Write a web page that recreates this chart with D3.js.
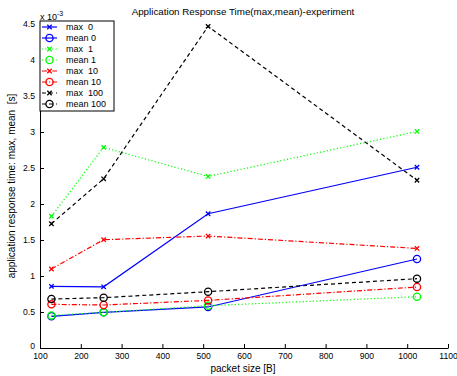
<!DOCTYPE html>
<html>
<head>
<meta charset="utf-8">
<script src="https://cdn.jsdelivr.net/npm/d3@7"></script>
<style>
  body { margin: 0; background: #fff; }
  text { font-family: "Liberation Sans", Arial, sans-serif; }
</style>
</head>
<body>
<div id="chart"></div>
<script>
// packet sizes [B]
const packetSizes = [128, 256, 512, 1024];

// response times, in units of 1e-3 s
const max0 = [0.856, 0.85, 1.865, 2.51];
const mean0 = [0.44, 0.495, 0.57, 1.236];
const max1 = [1.83, 2.786, 2.383, 3.008];
const mean1 = [0.453, 0.495, 0.587, 0.712];
const max10 = [1.097, 1.504, 1.555, 1.383];
const mean10 = [0.606, 0.597, 0.661, 0.847];
const max100 = [1.726, 2.35, 4.467, 2.33];
const mean100 = [0.68, 0.699, 0.782, 0.963];

const xTicks = [100, 200, 300, 400, 500, 600, 700, 800, 900, 1000, 1100];
const yTicks = [0, 0.5, 1, 1.5, 2, 2.5, 3, 3.5, 4, 4.5];

const series = [
  {name: 'max  0', values: max0, color: '#0000ff', dash: null, marker: 'x'},
  {name: 'mean 0', values: mean0, color: '#0000ff', dash: null, marker: 'o'},
  {name: 'max  1', values: max1, color: '#00ff00', dash: '1.2,2.2', marker: 'x'},
  {name: 'mean 1', values: mean1, color: '#00ff00', dash: '1.2,2.2', marker: 'o'},
  {name: 'max  10', values: max10, color: '#ff0000', dash: '5,2,1.2,2', marker: 'x'},
  {name: 'mean 10', values: mean10, color: '#ff0000', dash: '5,2,1.2,2', marker: 'o'},
  {name: 'max  100', values: max100, color: '#000000', dash: '4,3', marker: 'x'},
  {name: 'mean 100', values: mean100, color: '#000000', dash: '4,3', marker: 'o'}
];

const width = 457, height = 376;
const margin = {top: 24, right: 9, bottom: 28, left: 40};

const svg = d3.select('#chart').append('svg')
  .attr('width', width)
  .attr('height', height);

const x = d3.scaleLinear().domain([100, 1100]).range([margin.left, width - margin.right]);
const y = d3.scaleLinear().domain([0, 4.5]).range([height - margin.bottom, margin.top]);

// axes, ticks pointing inward like matlab
const xAxis = svg.append('g')
  .attr('transform', `translate(0,${height - margin.bottom})`)
  .call(d3.axisBottom(x).tickValues(xTicks).tickSizeInner(-4).tickSizeOuter(0).tickPadding(5)
    .tickFormat(d3.format('d')));
const yAxis = svg.append('g')
  .attr('transform', `translate(${margin.left},0)`)
  .call(d3.axisLeft(y).tickValues(yTicks).tickSizeInner(-4).tickSizeOuter(0).tickPadding(5)
    .tickFormat(d => String(d)));

[xAxis, yAxis].forEach(a => {
  a.selectAll('text').attr('font-size', 8.6).attr('fill', '#000')
    .attr('font-family', '"Liberation Sans", Arial, sans-serif');
  a.selectAll('line, path').attr('stroke', '#000');
});
// keep the "0" clear of the "100" below it
yAxis.selectAll('.tick text').filter(d => d === 0).attr('dy', '0.1em');

// lines
const line = d3.line()
  .x((d, i) => x(packetSizes[i]))
  .y(d => y(d));

function drawMarker(g, type, cx, cy, color) {
  if (type === 'o') {
    g.append('circle').attr('cx', cx).attr('cy', cy).attr('r', 3.6)
      .attr('fill', 'none').attr('stroke', color).attr('stroke-width', 1.3);
  } else {
    const s = 2.2;
    g.append('path')
      .attr('d', `M${cx - s},${cy - s}L${cx + s},${cy + s}M${cx - s},${cy + s}L${cx + s},${cy - s}`)
      .attr('stroke', color).attr('stroke-width', 1.3).attr('fill', 'none');
  }
}

series.forEach(s => {
  const g = svg.append('g');
  g.append('path')
    .attr('d', line(s.values))
    .attr('fill', 'none')
    .attr('stroke', s.color)
    .attr('stroke-width', 1.2)
    .attr('stroke-dasharray', s.dash);
  s.values.forEach((v, i) => drawMarker(g, s.marker, x(packetSizes[i]), y(v), s.color));
});

// exponent label
const expo = svg.append('text').attr('x', 40).attr('y', 20).attr('font-size', 9);
expo.append('tspan').text('x 10');
expo.append('tspan').attr('dy', -4).attr('font-size', 7).text('-3');

// title
svg.append('text')
  .attr('x', 243).attr('y', 15)
  .attr('text-anchor', 'middle')
  .attr('font-size', 9.8)
  .text('Application Response Time(max,mean)-experiment');

// axis titles
svg.append('text')
  .attr('x', 243).attr('y', 372)
  .attr('text-anchor', 'middle')
  .attr('font-size', 10)
  .text('packet size [B]');

svg.append('text')
  .attr('transform', `translate(15,${(margin.top + height - margin.bottom) / 2}) rotate(-90)`)
  .attr('text-anchor', 'middle')
  .attr('font-size', 10)
  .attr('xml:space', 'preserve')
  .style('white-space', 'pre')
  .text('application response time: max, mean  [s]');

// legend
const legend = svg.append('g').attr('transform', 'translate(40,21)');
legend.append('rect')
  .attr('width', 74).attr('height', 90)
  .attr('fill', '#fff').attr('stroke', '#000').attr('stroke-width', 1);

series.forEach((s, i) => {
  const ly = 6 + i * 11;
  const row = legend.append('g');
  row.append('line')
    .attr('x1', 2).attr('x2', 17).attr('y1', ly).attr('y2', ly)
    .attr('stroke', s.color).attr('stroke-width', 1.2)
    .attr('stroke-dasharray', s.dash);
  drawMarker(row, s.marker, 9.5, ly, s.color);
  row.append('text')
    .attr('x', 26).attr('y', ly + 3.3)
    .attr('font-size', 9)
    .attr('xml:space', 'preserve')
    .style('white-space', 'pre')
    .text(s.name);
});
</script>
</body>
</html>
